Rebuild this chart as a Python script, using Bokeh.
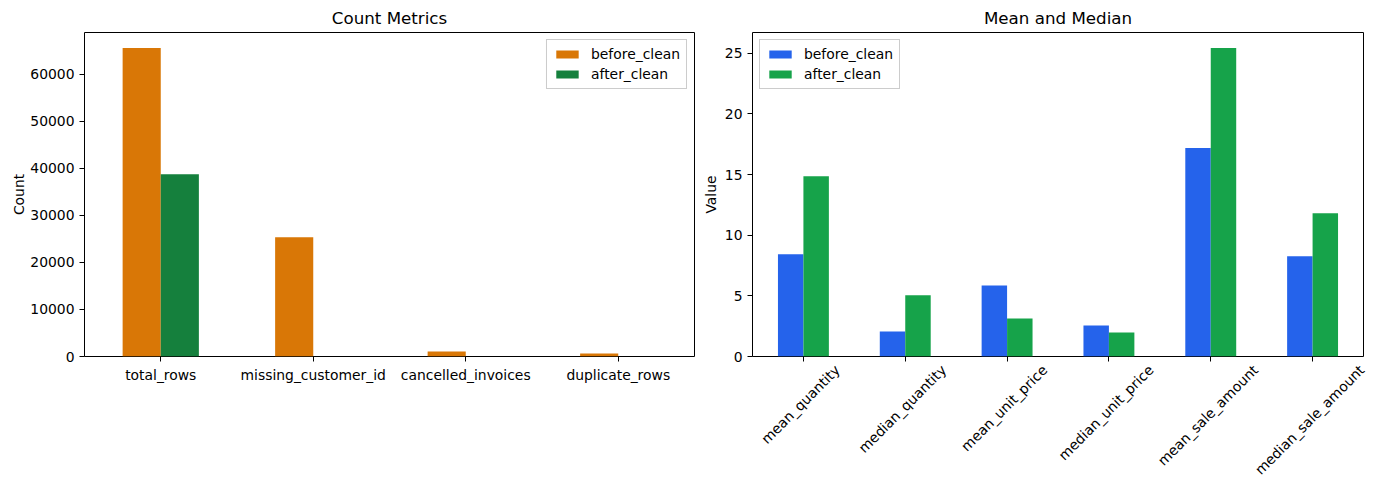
from bokeh.plotting import figure
from bokeh.layouts import row
from bokeh.models import (FactorRange, Range1d, SingleIntervalTicker, BasicTickFormatter, Legend,
                          LegendItem, ColumnDataSource, LinearAxis, FixedTicker, Spacer,
                          CustomJSTickFormatter)
from bokeh.transform import dodge
from bokeh.embed import file_html
from bokeh.resources import INLINE
import math

count_cats = ["total_rows", "missing_customer_id", "cancelled_invoices", "duplicate_rows"]
count_before = [65600, 25350, 1065, 640]
count_after = [38770, 0, 0, 0]

stat_cats = ["mean_quantity", "median_quantity", "mean_unit_price",
             "median_unit_price", "mean_sale_amount", "median_sale_amount"]
stat_before = [8.43, 2.07, 5.86, 2.56, 17.18, 8.26]
stat_after = [14.87, 5.04, 3.14, 1.98, 25.44, 11.81]

FONT = "DejaVu Sans"
TICK = "13.9px"

# approximate DejaVu Sans advance widths (units per 2048 em) for label layout
ADV = {"a": 1255, "c": 1100, "d": 1300, "e": 1260, "i": 569, "l": 569, "m": 1995,
       "n": 1298, "o": 1253, "p": 1300, "q": 1300, "r": 842, "s": 1067, "t": 803,
       "u": 1298, "y": 1212, "_": 1024, "w": 1675}


def text_w(s, size=13.9):
    return sum(ADV.get(ch, 1200) for ch in s) / 2048 * size


def style(p, ylabel, standoff):
    p.title.align = "center"
    p.title.text_font = FONT
    p.title.text_font_size = "16.7px"
    p.title.text_font_style = "normal"
    p.title.text_color = "black"
    p.outline_line_color = "black"
    p.outline_line_alpha = 1
    p.outline_line_width = 1
    p.xgrid.visible = False
    p.ygrid.visible = False
    for ax in (p.xaxis, p.yaxis):
        ax.axis_line_color = None
        ax.major_label_text_font = FONT
        ax.major_label_text_font_size = TICK
        ax.major_label_text_color = "black"
        ax.major_tick_out = 5
        ax.major_tick_in = 0
        ax.minor_tick_line_color = None
        ax.major_tick_line_color = "black"
    p.yaxis.axis_label = ylabel
    p.yaxis.axis_label_text_font = FONT
    p.yaxis.axis_label_text_font_size = TICK
    p.yaxis.axis_label_text_font_style = "normal"
    p.yaxis.axis_label_text_color = "black"
    p.yaxis.axis_label_standoff = standoff
    p.background_fill_color = "white"


def bars(p, xcol, cats, before, after, c1, c2, loc):
    src = ColumnDataSource(dict(x=xcol, cat=cats, before=before, after=after))
    r1 = p.vbar(x=dodge("x", -0.125, range=p.x_range), top="before", width=0.25,
                source=src, color=c1, line_color=None)
    r2 = p.vbar(x=dodge("x", 0.125, range=p.x_range), top="after", width=0.25,
                source=src, color=c2, line_color=None)
    leg = Legend(items=[LegendItem(label="before_clean", renderers=[r1]),
                        LegendItem(label="after_clean", renderers=[r2])],
                 location=loc)
    leg.label_text_font = FONT
    leg.label_text_font_size = TICK
    leg.label_text_color = "black"
    leg.border_line_color = "#cccccc"
    leg.border_line_alpha = 1
    leg.background_fill_alpha = 0.8
    leg.glyph_width = 28
    leg.glyph_height = 10
    leg.spacing = 4
    leg.padding = 6
    leg.margin = 7
    leg.label_standoff = 10
    leg.label_height = 14
    p.add_layout(leg)


p1 = figure(x_range=FactorRange(*count_cats), y_range=Range1d(0, max(count_before) * 1.05),
            title="Count Metrics", frame_width=610, frame_height=324,
            min_border_left=60, min_border_right=5, min_border_top=24, min_border_bottom=126,
            output_backend="svg", toolbar_location=None)
p1.x_range.range_padding = 0
style(p1, "Count", 0)
p1.yaxis.ticker = SingleIntervalTicker(interval=10000)
p1.yaxis.formatter = BasicTickFormatter(use_scientific=False)
bars(p1, count_cats, count_cats, count_before, count_after, "#d97706", "#15803d", "top_right")

# right panel: categories placed at their index positions
stat_x = list(range(len(stat_cats)))
p2 = figure(x_range=Range1d(-0.5, len(stat_cats) - 0.5), y_range=Range1d(0, max(stat_after) * 1.05),
            title="Mean and Median", frame_width=611, frame_height=324,
            min_border_left=40, min_border_right=6, min_border_top=24, min_border_bottom=126,
            output_backend="svg", toolbar_location=None)
style(p2, "Value", 3)
p2.yaxis.ticker = SingleIntervalTicker(interval=5)
p2.xaxis.ticker = FixedTicker(ticks=stat_x)
p2.xaxis.major_label_overrides = {i: "" for i in stat_x}
p2.xaxis.major_label_standoff = 0
bars(p2, stat_x, stat_cats, stat_before, stat_after, "#2563eb", "#16a34a", "top_left")

# rotated labels centred under their ticks (matplotlib rotation=45 look):
# a label-only axis whose ticks are nudged right by half of each rotated label's width
px_per_unit = 611 / len(stat_cats)
x_hi = len(stat_cats) - 0.5 - 0.002
lab_ticks = [min(i + (text_w(c) * 0.354 - 3) / px_per_unit, x_hi) for i, c in zip(stat_x, stat_cats)]
lab_axis = LinearAxis(ticker=FixedTicker(ticks=lab_ticks),
                      formatter=CustomJSTickFormatter(args=dict(names=stat_cats),
                                                      code="return names[index];"),
                      major_label_orientation=math.pi / 4, major_label_standoff=0,
                      major_tick_line_color=None, minor_tick_line_color=None,
                      axis_line_color=None, major_label_text_font=FONT,
                      major_label_text_font_size=TICK, major_label_text_color="black")
p2.add_layout(lab_axis, "below")

layout = row(Spacer(width=8), p1, p2)
open("out.html", "w").write(file_html(layout, INLINE))
